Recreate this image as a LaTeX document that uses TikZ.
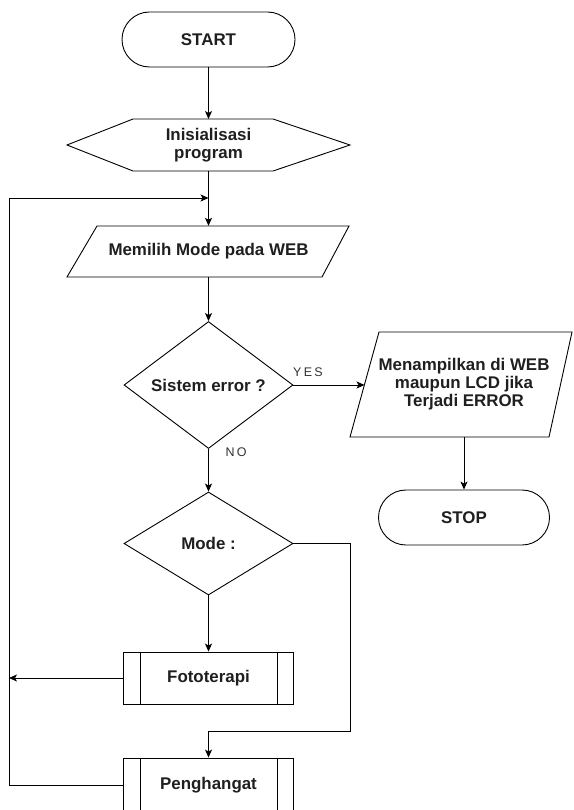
\documentclass[tikz,border=0pt]{standalone}
\usepackage{fontspec}
\setmainfont{Liberation Sans}
\usetikzlibrary{shapes.geometric,arrows.meta,calc}
\begin{document}
\begin{tikzpicture}[x=1pt,y=-1pt,
  txt/.style={font=\bfseries\fontsize{16.9}{18}\selectfont, text=black!88, align=center, inner sep=0pt},
  outl/.style={draw=black, line width=0.9pt, line join=miter},
  term/.style={txt, outl, rectangle, rounded corners=27.5pt, minimum width=173pt, minimum height=55pt},
  plainbox/.style={txt, rectangle, draw=none},
  dia/.style={txt, outl, diamond, minimum width=169pt, minimum height=104pt, inner sep=0pt},
  proc/.style={txt, outl, rectangle, minimum width=170pt, minimum height=52pt},
  arr/.style={draw=black, line width=0.8pt, -{Stealth[length=8pt,width=7pt,inset=2pt]}},
  lbl/.style={font=\fontsize{12.5}{14}\selectfont\addfontfeature{LetterSpace=18}, text=black!80, inner sep=0pt}
]
\useasboundingbox (0,0) rectangle (573,810);
\clip (0,0) rectangle (573,810);
\fill[white] (0,0) rectangle (573,810);

% START
\node[term] (start) at (208.5,39.5) {START};

% Inisialisasi program (hexagon)
\node[plainbox, minimum width=283pt, minimum height=52pt] (init) at (208.5,145) {Inisialisasi\\program};
\draw[outl] (67,145) -- (133,119) -- (273,119) -- (350,145) -- (273,171) -- (133,171) -- cycle;

% Memilih Mode pada WEB (parallelogram)
\node[plainbox, minimum width=282pt, minimum height=51pt] (mem) at (208.5,251.5) {Memilih Mode pada WEB};
\draw[outl] (67,277) -- (97,226) -- (349,226) -- (322,277) -- cycle;

% Sistem error ?
\node[dia] (err) at (208.5,385) {Sistem error ?};

% Menampilkan ... (parallelogram)
\node[plainbox, minimum width=200pt, minimum height=105pt] (men) at (464,384.5) {Menampilkan di WEB\\maupun LCD jika\\Terjadi ERROR};
\draw[outl] (350,437) -- (379,332) -- (572,332) -- (549,437) -- cycle;
\coordinate (menL) at (364.5,385);

% STOP
\node[term, minimum width=171pt] (stop) at (464,517.5) {STOP};

% Mode :
\node[dia, minimum height=103pt] (mode) at (208.5,543.5) {Mode :};

% Fototerapi
\node[proc] (foto) at (208.5,678) {Fototerapi};
\draw[outl] ([xshift=17pt]foto.north west) -- ([xshift=17pt]foto.south west);
\draw[outl] ([xshift=-17pt]foto.north east) -- ([xshift=-17pt]foto.south east);

% Penghangat
\node[proc, minimum height=54pt] (pen) at (208.5,785) {Penghangat};
\draw[outl] ([xshift=17pt]pen.north west) -- ([xshift=17pt]pen.south west);
\draw[outl] ([xshift=-17pt]pen.north east) -- ([xshift=-17pt]pen.south east);

% helper coordinates
\coordinate (j) at (208.5,198);
\coordinate (loopL) at (9,198);
\coordinate (r1) at (350,731);

% connectors
\draw[arr] (start.south) -- (init.south |- 0,119);
\draw[arr] (init.south) -- (mem.north);
\draw[arr] (mem.south) -- (err.north);
\draw[arr] (err.east) -- (menL);
\draw[arr] (men.south) -- (stop.north);
\draw[arr] (err.south) -- (mode.north);
\draw[arr] (mode.south) -- (foto.north);
\draw[arr] (mode.east) -| (r1) -| (pen.north);
\draw[arr] (foto.west) -- (foto.west -| loopL);
\draw[arr] (pen.west) -| (loopL) -- (j);

% labels
\node[lbl] (yes) at (308,372) {YES};
\node[lbl] (no) at (236,452) {NO};
\end{tikzpicture}
\end{document}
